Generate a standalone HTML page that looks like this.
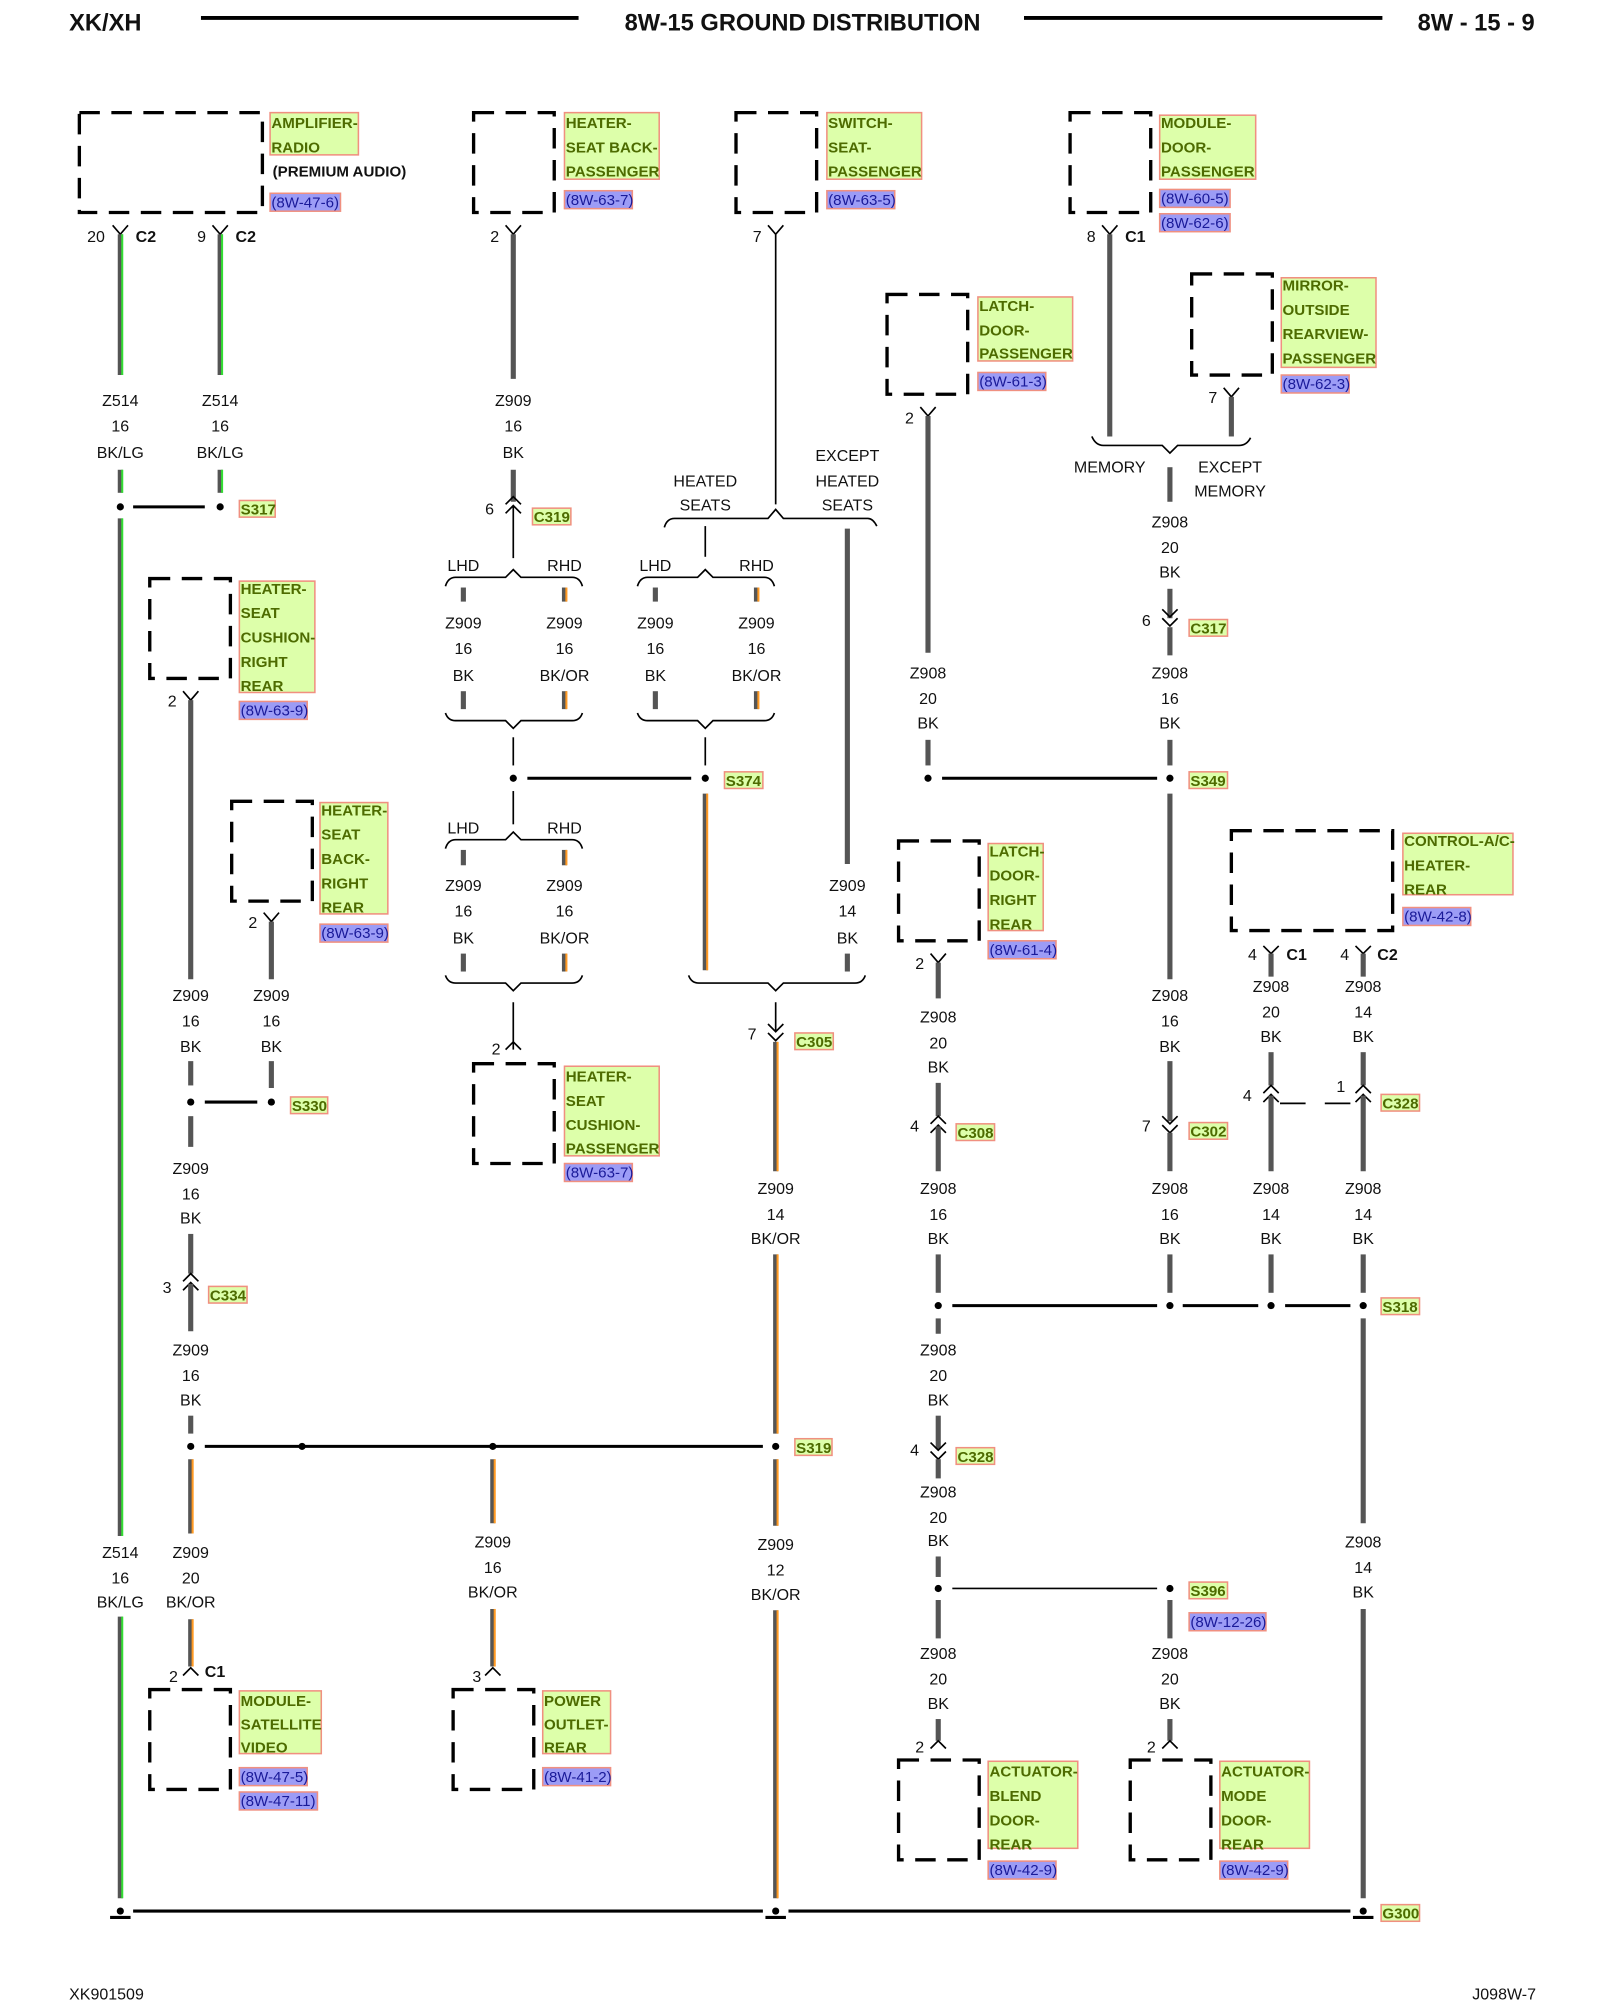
<!DOCTYPE html>
<html><head><meta charset="utf-8"><style>
html,body{margin:0;padding:0;background:#fff}
svg{display:block}
text{font-family:"Liberation Sans",sans-serif;font-size:12.5px;fill:#111}
.c{text-anchor:middle}
.w{stroke:#555;stroke-width:4;fill:none}
.g{stroke:#33dd33;stroke-width:1.6;fill:none}
.o{stroke:#ff9922;stroke-width:1.6;fill:none}
.t{stroke:#000;stroke-width:1.3;fill:none}
.b{stroke:#000;stroke-width:2.4;fill:none}
.db{stroke:#000;stroke-width:2.6;fill:none;stroke-dasharray:16 9}
.lb{fill:#ddffaa;stroke:#f09080;stroke-width:1.2}
.lt{font-weight:bold;font-size:11.8px;fill:#4d6b00}
.rb{fill:#9c9cf6;stroke:#f09080;stroke-width:1.2}
.rt{font-size:11.8px;fill:#1a1a99}
.bd{font-weight:bold}
</style></head><body>
<svg width="1600" height="2000" viewBox="0 0 1250 1562.5" xmlns="http://www.w3.org/2000/svg">
<!-- header -->
<text x="54" y="24" class="bd" style="font-size:18.5px">XK/XH</text>
<line x1="157" y1="14" x2="452" y2="14" stroke="#000" stroke-width="3"/>
<text x="627" y="24" class="bd c" style="font-size:18.5px">8W-15 GROUND DISTRIBUTION</text>
<line x1="800" y1="14" x2="1080" y2="14" stroke="#000" stroke-width="3"/>
<text x="1199" y="24" class="bd" style="font-size:18.5px;text-anchor:end">8W - 15 - 9</text>
<text x="54" y="1562">XK901509</text>
<text x="1200" y="1562" style="text-anchor:end">J098W-7</text>

<!-- ===== Amplifier ===== -->
<rect x="62" y="88" width="143" height="78" class="db"/>
<rect x="211" y="88" width="69" height="33" class="lb"/>
<text x="212" y="100" class="lt">AMPLIFIER-</text><text x="212" y="119" class="lt">RADIO</text>
<text x="213" y="138" class="bd" style="font-size:11.8px">(PREMIUM AUDIO)</text>
<rect x="211" y="151" width="55" height="14" class="rb"/><text x="212" y="162" class="rt">(8W-47-6)</text>
<path class="t" d="M88 176 L94 183 L100 176 M166 176 L172 183 L178 176"/>
<text x="82" y="189" style="text-anchor:end">20</text><text x="106" y="189" class="bd">C2</text>
<text x="161" y="189" style="text-anchor:end">9</text><text x="184" y="189" class="bd">C2</text>
<line class="w" x1="94" y1="183" x2="94" y2="293"/><line class="g" x1="95.5" y1="183" x2="95.5" y2="293"/>
<line class="w" x1="172" y1="183" x2="172" y2="293"/><line class="g" x1="173.5" y1="183" x2="173.5" y2="293"/>
<text x="94" y="317" class="c">Z514</text><text x="94" y="337" class="c">16</text><text x="94" y="358" class="c">BK/LG</text>
<text x="172" y="317" class="c">Z514</text><text x="172" y="337" class="c">16</text><text x="172" y="358" class="c">BK/LG</text>
<line class="w" x1="94" y1="367" x2="94" y2="385"/><line class="g" x1="95.5" y1="367" x2="95.5" y2="385"/>
<line class="w" x1="172" y1="367" x2="172" y2="385"/><line class="g" x1="173.5" y1="367" x2="173.5" y2="385"/>
<circle cx="94" cy="396" r="2.8"/><circle cx="172" cy="396" r="2.8"/>
<line class="b" x1="104" y1="396" x2="160" y2="396"/>
<rect x="187" y="391" width="28" height="13" class="lb"/><text x="188" y="402" class="lt">S317</text>
<line class="w" x1="94" y1="405" x2="94" y2="1200"/><line class="g" x1="95.5" y1="405" x2="95.5" y2="1200"/>
<text x="94" y="1217" class="c">Z514</text><text x="94" y="1237" class="c">16</text><text x="94" y="1256" class="c">BK/LG</text>
<line class="w" x1="94" y1="1263" x2="94" y2="1483"/><line class="g" x1="95.5" y1="1263" x2="95.5" y2="1483"/>

<!-- ground bus -->
<line class="b" x1="104" y1="1493" x2="596" y2="1493"/>
<line class="b" x1="616" y1="1493" x2="1055" y2="1493"/>
<circle cx="94" cy="1493" r="2.8"/><line class="b" x1="86" y1="1498" x2="102" y2="1498"/>
<circle cx="606" cy="1493" r="2.8"/><line class="b" x1="598" y1="1498" x2="614" y2="1498"/>
<circle cx="1065" cy="1493" r="2.8"/><line class="b" x1="1057" y1="1498" x2="1073" y2="1498"/>
<rect x="1079" y="1488" width="30" height="13" class="lb"/><text x="1080" y="1499" class="lt">G300</text>

<!-- ===== Heater seat back passenger ===== -->
<rect x="370" y="88" width="63" height="78" class="db"/>
<rect x="441" y="88" width="74" height="52" class="lb"/>
<text x="442" y="100" class="lt">HEATER-</text><text x="442" y="119" class="lt">SEAT BACK-</text><text x="442" y="138" class="lt">PASSENGER</text>
<rect x="441" y="149" width="53" height="14" class="rb"/><text x="442" y="160" class="rt">(8W-63-7)</text>
<path class="t" d="M395 176 L401 183 L407 176"/><text x="390" y="189" style="text-anchor:end">2</text>
<line class="w" x1="401" y1="183" x2="401" y2="296"/>
<text x="401" y="317" class="c">Z909</text><text x="401" y="337" class="c">16</text><text x="401" y="358" class="c">BK</text>
<line class="w" x1="401" y1="367" x2="401" y2="392"/>
<path class="t" d="M395 394 L401 388 L407 394 M395 401 L401 395 L407 401 M401 395 L401 436"/>
<text x="386" y="402" style="text-anchor:end">6</text>
<rect x="416" y="397" width="30" height="13" class="lb"/><text x="417" y="408" class="lt">C319</text>
<text x="362" y="446" class="c">LHD</text><text x="441" y="446" class="c">RHD</text>
<path class="t" d="M348 458 Q350 451 356 451 L395 451 L401 445 L407 451 L447 451 Q453 451 455 458"/>
<line class="w" x1="362" y1="459" x2="362" y2="470"/>
<line class="w" x1="441" y1="459" x2="441" y2="470"/><line class="o" x1="442.5" y1="459" x2="442.5" y2="470"/>
<text x="362" y="491" class="c">Z909</text><text x="362" y="511" class="c">16</text><text x="362" y="532" class="c">BK</text>
<text x="441" y="491" class="c">Z909</text><text x="441" y="511" class="c">16</text><text x="441" y="532" class="c">BK/OR</text>
<line class="w" x1="362" y1="540" x2="362" y2="554"/>
<line class="w" x1="441" y1="540" x2="441" y2="554"/><line class="o" x1="442.5" y1="540" x2="442.5" y2="554"/>
<path class="t" d="M348 557 Q350 563 356 563 L395 563 L401 569 L407 563 L447 563 Q453 563 455 557"/>
<line class="t" x1="401" y1="576" x2="401" y2="598"/>
<circle cx="401" cy="608" r="2.8"/>
<line class="b" x1="412" y1="608" x2="540" y2="608"/>
<circle cx="551" cy="608" r="2.8"/>
<rect x="566" y="603" width="30" height="13" class="lb"/><text x="567" y="614" class="lt">S374</text>
<line class="t" x1="401" y1="618" x2="401" y2="644"/>
<text x="362" y="651" class="c">LHD</text><text x="441" y="651" class="c">RHD</text>
<path class="t" d="M348 663 Q350 656 356 656 L395 656 L401 650 L407 656 L447 656 Q453 656 455 663"/>
<line class="w" x1="362" y1="664" x2="362" y2="676"/>
<line class="w" x1="441" y1="664" x2="441" y2="676"/><line class="o" x1="442.5" y1="664" x2="442.5" y2="676"/>
<text x="362" y="696" class="c">Z909</text><text x="362" y="716" class="c">16</text><text x="362" y="737" class="c">BK</text>
<text x="441" y="696" class="c">Z909</text><text x="441" y="716" class="c">16</text><text x="441" y="737" class="c">BK/OR</text>
<line class="w" x1="362" y1="745" x2="362" y2="759"/>
<line class="w" x1="441" y1="745" x2="441" y2="759"/><line class="o" x1="442.5" y1="745" x2="442.5" y2="759"/>
<path class="t" d="M348 762 Q350 768 356 768 L395 768 L401 774 L407 768 L447 768 Q453 768 455 762"/>
<line class="t" x1="401" y1="783" x2="401" y2="820"/>
<path class="t" d="M395 820 L401 814 L407 820"/><text x="391" y="824" style="text-anchor:end">2</text>
<rect x="370" y="831" width="63" height="78" class="db"/>
<rect x="441" y="833" width="74" height="70" class="lb"/>
<text x="442" y="845" class="lt">HEATER-</text><text x="442" y="864" class="lt">SEAT</text><text x="442" y="883" class="lt">CUSHION-</text><text x="442" y="901" class="lt">PASSENGER</text>
<rect x="441" y="909" width="53" height="14" class="rb"/><text x="442" y="920" class="rt">(8W-63-7)</text>

<!-- ===== Switch seat passenger ===== -->
<rect x="575" y="88" width="63" height="78" class="db"/>
<rect x="646" y="88" width="74" height="52" class="lb"/>
<text x="647" y="100" class="lt">SWITCH-</text><text x="647" y="119" class="lt">SEAT-</text><text x="647" y="138" class="lt">PASSENGER</text>
<rect x="646" y="149" width="53" height="14" class="rb"/><text x="647" y="160" class="rt">(8W-63-5)</text>
<path class="t" d="M600 176 L606 183 L612 176"/><text x="595" y="189" style="text-anchor:end">7</text>
<line class="t" x1="606" y1="183" x2="606" y2="394"/>
<text x="551" y="380" class="c">HEATED</text><text x="551" y="399" class="c">SEATS</text>
<text x="662" y="360" class="c">EXCEPT</text><text x="662" y="380" class="c">HEATED</text><text x="662" y="399" class="c">SEATS</text>
<path class="t" d="M519 412 Q521 405 527 405 L600 405 L606 398 L612 405 L678 405 Q682 405 685 411"/>
<line class="t" x1="551" y1="411" x2="551" y2="435"/>
<text x="512" y="446" class="c">LHD</text><text x="591" y="446" class="c">RHD</text>
<path class="t" d="M498 458 Q500 451 506 451 L545 451 L551 445 L557 451 L597 451 Q603 451 605 458"/>
<line class="w" x1="512" y1="459" x2="512" y2="470"/>
<line class="w" x1="591" y1="459" x2="591" y2="470"/><line class="o" x1="592.5" y1="459" x2="592.5" y2="470"/>
<text x="512" y="491" class="c">Z909</text><text x="512" y="511" class="c">16</text><text x="512" y="532" class="c">BK</text>
<text x="591" y="491" class="c">Z909</text><text x="591" y="511" class="c">16</text><text x="591" y="532" class="c">BK/OR</text>
<line class="w" x1="512" y1="540" x2="512" y2="554"/>
<line class="w" x1="591" y1="540" x2="591" y2="554"/><line class="o" x1="592.5" y1="540" x2="592.5" y2="554"/>
<path class="t" d="M498 557 Q500 563 506 563 L545 563 L551 569 L557 563 L597 563 Q603 563 605 557"/>
<line class="t" x1="551" y1="576" x2="551" y2="598"/>
<line class="w" x1="551" y1="620" x2="551" y2="758"/><line class="o" x1="552.5" y1="620" x2="552.5" y2="758"/>
<line class="w" x1="662" y1="413" x2="662" y2="675"/>
<text x="662" y="696" class="c">Z909</text><text x="662" y="716" class="c">14</text><text x="662" y="737" class="c">BK</text>
<line class="w" x1="662" y1="745" x2="662" y2="759"/>
<path class="t" d="M538 762 Q540 768 546 768 L600 768 L606 774 L612 768 L668 768 Q674 768 676 762"/>
<line class="t" x1="606" y1="783" x2="606" y2="806"/>
<path class="t" d="M600 800 L606 806 L612 800 M600 807 L606 813 L612 807"/>
<text x="591" y="812" style="text-anchor:end">7</text>
<rect x="621" y="807" width="30" height="13" class="lb"/><text x="622" y="818" class="lt">C305</text>
<line class="w" x1="606" y1="814" x2="606" y2="915"/><line class="o" x1="607.5" y1="814" x2="607.5" y2="915"/>
<text x="606" y="933" class="c">Z909</text><text x="606" y="953" class="c">14</text><text x="606" y="972" class="c">BK/OR</text>
<line class="w" x1="606" y1="980" x2="606" y2="1120"/><line class="o" x1="607.5" y1="980" x2="607.5" y2="1120"/>
<circle cx="606" cy="1130" r="2.8"/>
<rect x="621" y="1124" width="29" height="13" class="lb"/><text x="622" y="1135" class="lt">S319</text>
<line class="w" x1="606" y1="1140" x2="606" y2="1192"/><line class="o" x1="607.5" y1="1140" x2="607.5" y2="1192"/>
<text x="606" y="1211" class="c">Z909</text><text x="606" y="1231" class="c">12</text><text x="606" y="1250" class="c">BK/OR</text>
<line class="w" x1="606" y1="1258" x2="606" y2="1483"/><line class="o" x1="607.5" y1="1258" x2="607.5" y2="1483"/>

<!-- ===== Heater seat cushion right rear ===== -->
<rect x="117" y="452" width="63" height="78" class="db"/>
<rect x="187" y="454" width="59" height="87" class="lb"/>
<text x="188" y="464" class="lt">HEATER-</text><text x="188" y="483" class="lt">SEAT</text><text x="188" y="502" class="lt">CUSHION-</text><text x="188" y="521" class="lt">RIGHT</text><text x="188" y="540" class="lt">REAR</text>
<rect x="187" y="548" width="53" height="14" class="rb"/><text x="188" y="559" class="rt">(8W-63-9)</text>
<path class="t" d="M143 540 L149 547 L155 540"/><text x="138" y="552" style="text-anchor:end">2</text>
<line class="w" x1="149" y1="547" x2="149" y2="765"/>
<text x="149" y="782" class="c">Z909</text><text x="149" y="802" class="c">16</text><text x="149" y="822" class="c">BK</text>
<line class="w" x1="149" y1="829" x2="149" y2="848"/>
<circle cx="149" cy="861" r="2.8"/>
<line class="b" x1="160" y1="861" x2="201" y2="861"/>
<circle cx="212" cy="861" r="2.8"/>
<rect x="227" y="857" width="29" height="13" class="lb"/><text x="228" y="868" class="lt">S330</text>
<line class="w" x1="149" y1="872" x2="149" y2="896"/>
<text x="149" y="917" class="c">Z909</text><text x="149" y="937" class="c">16</text><text x="149" y="956" class="c">BK</text>
<line class="w" x1="149" y1="964" x2="149" y2="995"/>
<path class="t" d="M143 1001 L149 995 L155 1001 M143 1008 L149 1002 L155 1008"/>
<line class="w" x1="149" y1="1003" x2="149" y2="1040"/>
<text x="134" y="1010" style="text-anchor:end">3</text>
<rect x="163" y="1005" width="30" height="13" class="lb"/><text x="164" y="1016" class="lt">C334</text>
<text x="149" y="1059" class="c">Z909</text><text x="149" y="1079" class="c">16</text><text x="149" y="1098" class="c">BK</text>
<line class="w" x1="149" y1="1106" x2="149" y2="1120"/>
<circle cx="149" cy="1130" r="2.8"/>
<line class="b" x1="160" y1="1130" x2="596" y2="1130"/>
<circle cx="236" cy="1130" r="2.8"/><circle cx="385" cy="1130" r="2.8"/>
<line class="w" x1="149" y1="1140" x2="149" y2="1198"/><line class="o" x1="150.5" y1="1140" x2="150.5" y2="1198"/>
<text x="149" y="1217" class="c">Z909</text><text x="149" y="1237" class="c">20</text><text x="149" y="1256" class="c">BK/OR</text>
<line class="w" x1="149" y1="1265" x2="149" y2="1302"/><line class="o" x1="150.5" y1="1265" x2="150.5" y2="1302"/>
<path class="t" d="M143 1309 L149 1303 L155 1309"/><text x="139" y="1314" style="text-anchor:end">2</text><text x="160" y="1310" class="bd">C1</text>
<rect x="117" y="1320" width="63" height="78" class="db"/>
<rect x="187" y="1321" width="64" height="49" class="lb"/>
<text x="188" y="1333" class="lt">MODULE-</text><text x="188" y="1351" class="lt">SATELLITE</text><text x="188" y="1369" class="lt">VIDEO</text>
<rect x="187" y="1381" width="53" height="14" class="rb"/><text x="188" y="1392" class="rt">(8W-47-5)</text>
<rect x="187" y="1400" width="61" height="14" class="rb"/><text x="188" y="1411" class="rt">(8W-47-11)</text>

<!-- ===== Heater seat back right rear ===== -->
<rect x="181" y="626" width="63" height="78" class="db"/>
<rect x="250" y="627" width="53" height="87" class="lb"/>
<text x="251" y="637" class="lt">HEATER-</text><text x="251" y="656" class="lt">SEAT</text><text x="251" y="675" class="lt">BACK-</text><text x="251" y="694" class="lt">RIGHT</text><text x="251" y="713" class="lt">REAR</text>
<rect x="250" y="722" width="53" height="14" class="rb"/><text x="251" y="733" class="rt">(8W-63-9)</text>
<path class="t" d="M206 713 L212 720 L218 713"/><text x="201" y="725" style="text-anchor:end">2</text>
<line class="w" x1="212" y1="720" x2="212" y2="765"/>
<text x="212" y="782" class="c">Z909</text><text x="212" y="802" class="c">16</text><text x="212" y="822" class="c">BK</text>
<line class="w" x1="212" y1="829" x2="212" y2="850"/>

<!-- ===== Power outlet ===== -->
<line class="w" x1="385" y1="1140" x2="385" y2="1190"/><line class="o" x1="386.5" y1="1140" x2="386.5" y2="1190"/>
<text x="385" y="1209" class="c">Z909</text><text x="385" y="1229" class="c">16</text><text x="385" y="1248" class="c">BK/OR</text>
<line class="w" x1="385" y1="1257" x2="385" y2="1302"/><line class="o" x1="386.5" y1="1257" x2="386.5" y2="1302"/>
<path class="t" d="M379 1309 L385 1303 L391 1309"/><text x="376" y="1314" style="text-anchor:end">3</text>
<rect x="354" y="1320" width="63" height="78" class="db"/>
<rect x="424" y="1321" width="53" height="49" class="lb"/>
<text x="425" y="1333" class="lt">POWER</text><text x="425" y="1351" class="lt">OUTLET-</text><text x="425" y="1369" class="lt">REAR</text>
<rect x="424" y="1381" width="53" height="14" class="rb"/><text x="425" y="1392" class="rt">(8W-41-2)</text>

<!-- ===== Latch door passenger ===== -->
<rect x="693" y="230" width="63" height="78" class="db"/>
<rect x="764" y="232" width="74" height="50" class="lb"/>
<text x="765" y="243" class="lt">LATCH-</text><text x="765" y="262" class="lt">DOOR-</text><text x="765" y="280" class="lt">PASSENGER</text>
<rect x="764" y="291" width="53" height="14" class="rb"/><text x="765" y="302" class="rt">(8W-61-3)</text>
<path class="t" d="M719 318 L725 325 L731 318"/><text x="714" y="331" style="text-anchor:end">2</text>
<line class="w" x1="725" y1="325" x2="725" y2="510"/>
<text x="725" y="530" class="c">Z908</text><text x="725" y="550" class="c">20</text><text x="725" y="569" class="c">BK</text>
<line class="w" x1="725" y1="578" x2="725" y2="598"/>
<circle cx="725" cy="608" r="2.8"/>
<line class="b" x1="736" y1="608" x2="904" y2="608"/>
<circle cx="914" cy="608" r="2.8"/>
<rect x="929" y="603" width="30" height="13" class="lb"/><text x="930" y="614" class="lt">S349</text>

<!-- ===== Module door passenger ===== -->
<rect x="836" y="88" width="63" height="78" class="db"/>
<rect x="906" y="90" width="75" height="50" class="lb"/>
<text x="907" y="100" class="lt">MODULE-</text><text x="907" y="119" class="lt">DOOR-</text><text x="907" y="138" class="lt">PASSENGER</text>
<rect x="906" y="148" width="55" height="14" class="rb"/><text x="907" y="159" class="rt">(8W-60-5)</text>
<rect x="906" y="167" width="55" height="14" class="rb"/><text x="907" y="178" class="rt">(8W-62-6)</text>
<path class="t" d="M861 176 L867 183 L873 176"/><text x="856" y="189" style="text-anchor:end">8</text><text x="879" y="189" class="bd">C1</text>
<line class="w" x1="867" y1="183" x2="867" y2="341"/>
<rect x="931" y="214" width="63" height="79" class="db"/>
<rect x="1001" y="217" width="74" height="70" class="lb"/>
<text x="1002" y="227" class="lt">MIRROR-</text><text x="1002" y="246" class="lt">OUTSIDE</text><text x="1002" y="265" class="lt">REARVIEW-</text><text x="1002" y="284" class="lt">PASSENGER</text>
<rect x="1001" y="293" width="53" height="14" class="rb"/><text x="1002" y="304" class="rt">(8W-62-3)</text>
<path class="t" d="M956 303 L962 310 L968 303"/><text x="951" y="315" style="text-anchor:end">7</text>
<line class="w" x1="962" y1="310" x2="962" y2="341"/>
<path class="t" d="M853 341 Q856 348 862 348 L908 348 L914 354 L920 348 L968 348 Q974 348 977 342"/>
<text x="867" y="369" class="c">MEMORY</text>
<text x="961" y="369" class="c">EXCEPT</text><text x="961" y="388" class="c">MEMORY</text>
<line class="w" x1="914" y1="365" x2="914" y2="392"/>
<text x="914" y="412" class="c">Z908</text><text x="914" y="432" class="c">20</text><text x="914" y="451" class="c">BK</text>
<line class="w" x1="914" y1="460" x2="914" y2="483"/>
<path class="t" d="M908 476 L914 482 L920 476 M908 483 L914 489 L920 483"/>
<line class="w" x1="914" y1="490" x2="914" y2="512"/>
<text x="899" y="489" style="text-anchor:end">6</text>
<rect x="929" y="484" width="30" height="13" class="lb"/><text x="930" y="495" class="lt">C317</text>
<text x="914" y="530" class="c">Z908</text><text x="914" y="550" class="c">16</text><text x="914" y="569" class="c">BK</text>
<line class="w" x1="914" y1="578" x2="914" y2="598"/>
<line class="w" x1="914" y1="620" x2="914" y2="765"/>
<text x="914" y="782" class="c">Z908</text><text x="914" y="802" class="c">16</text><text x="914" y="822" class="c">BK</text>
<line class="w" x1="914" y1="829" x2="914" y2="876"/>
<path class="t" d="M908 872 L914 878 L920 872 M908 879 L914 885 L920 879"/>
<line class="w" x1="914" y1="885" x2="914" y2="915"/>
<text x="899" y="884" style="text-anchor:end">7</text>
<rect x="929" y="877" width="30" height="13" class="lb"/><text x="930" y="888" class="lt">C302</text>
<text x="914" y="933" class="c">Z908</text><text x="914" y="953" class="c">16</text><text x="914" y="972" class="c">BK</text>
<line class="w" x1="914" y1="980" x2="914" y2="1010"/>

<!-- ===== Latch door right rear ===== -->
<rect x="702" y="657" width="63" height="78" class="db"/>
<rect x="772" y="659" width="43" height="68" class="lb"/>
<text x="773" y="669" class="lt">LATCH-</text><text x="773" y="688" class="lt">DOOR-</text><text x="773" y="707" class="lt">RIGHT</text><text x="773" y="726" class="lt">REAR</text>
<rect x="772" y="735" width="53" height="14" class="rb"/><text x="773" y="746" class="rt">(8W-61-4)</text>
<path class="t" d="M727 745 L733 752 L739 745"/><text x="722" y="757" style="text-anchor:end">2</text>
<line class="w" x1="733" y1="752" x2="733" y2="780"/>
<text x="733" y="799" class="c">Z908</text><text x="733" y="819" class="c">20</text><text x="733" y="838" class="c">BK</text>
<line class="w" x1="733" y1="846" x2="733" y2="872"/>
<path class="t" d="M727 878 L733 872 L739 878 M727 885 L733 879 L739 885"/>
<line class="w" x1="733" y1="880" x2="733" y2="915"/>
<text x="718" y="884" style="text-anchor:end">4</text>
<rect x="747" y="878" width="30" height="13" class="lb"/><text x="748" y="889" class="lt">C308</text>
<text x="733" y="933" class="c">Z908</text><text x="733" y="953" class="c">16</text><text x="733" y="972" class="c">BK</text>
<line class="w" x1="733" y1="980" x2="733" y2="1010"/>
<circle cx="733" cy="1020" r="2.8"/>
<line class="b" x1="744" y1="1020" x2="904" y2="1020"/>
<circle cx="914" cy="1020" r="2.8"/>
<line class="b" x1="924" y1="1020" x2="983" y2="1020"/>
<circle cx="993" cy="1020" r="2.8"/>
<line class="b" x1="1004" y1="1020" x2="1055" y2="1020"/>
<circle cx="1065" cy="1020" r="2.8"/>
<rect x="1079" y="1014" width="30" height="13" class="lb"/><text x="1080" y="1025" class="lt">S318</text>
<line class="w" x1="733" y1="1030" x2="733" y2="1042"/>
<text x="733" y="1059" class="c">Z908</text><text x="733" y="1079" class="c">20</text><text x="733" y="1098" class="c">BK</text>
<line class="w" x1="733" y1="1106" x2="733" y2="1132"/>
<path class="t" d="M727 1127 L733 1133 L739 1127 M727 1134 L733 1140 L739 1134"/>
<line class="w" x1="733" y1="1140" x2="733" y2="1155"/>
<text x="718" y="1137" style="text-anchor:end">4</text>
<rect x="747" y="1131" width="30" height="13" class="lb"/><text x="748" y="1142" class="lt">C328</text>
<text x="733" y="1170" class="c">Z908</text><text x="733" y="1190" class="c">20</text><text x="733" y="1208" class="c">BK</text>
<line class="w" x1="733" y1="1216" x2="733" y2="1232"/>
<circle cx="733" cy="1241" r="2.8"/>
<line class="t" x1="744" y1="1241" x2="904" y2="1241"/>
<circle cx="914" cy="1241" r="2.8"/>
<rect x="929" y="1236" width="30" height="13" class="lb"/><text x="930" y="1247" class="lt">S396</text>
<rect x="929" y="1260" width="60" height="14" class="rb"/><text x="930" y="1271" class="rt">(8W-12-26)</text>
<line class="w" x1="733" y1="1250" x2="733" y2="1280"/>
<line class="w" x1="914" y1="1250" x2="914" y2="1280"/>
<text x="733" y="1296" class="c">Z908</text><text x="733" y="1316" class="c">20</text><text x="733" y="1335" class="c">BK</text>
<text x="914" y="1296" class="c">Z908</text><text x="914" y="1316" class="c">20</text><text x="914" y="1335" class="c">BK</text>
<line class="w" x1="733" y1="1343" x2="733" y2="1360"/>
<line class="w" x1="914" y1="1343" x2="914" y2="1360"/>
<path class="t" d="M727 1366 L733 1360 L739 1366"/><text x="722" y="1369" style="text-anchor:end">2</text>
<path class="t" d="M908 1366 L914 1360 L920 1366"/><text x="903" y="1369" style="text-anchor:end">2</text>
<rect x="702" y="1375" width="63" height="78" class="db"/>
<rect x="772" y="1376" width="70" height="68" class="lb"/>
<text x="773" y="1388" class="lt">ACTUATOR-</text><text x="773" y="1407" class="lt">BLEND</text><text x="773" y="1426" class="lt">DOOR-</text><text x="773" y="1445" class="lt">REAR</text>
<rect x="772" y="1454" width="53" height="14" class="rb"/><text x="773" y="1465" class="rt">(8W-42-9)</text>
<rect x="883" y="1375" width="63" height="78" class="db"/>
<rect x="953" y="1376" width="70" height="68" class="lb"/>
<text x="954" y="1388" class="lt">ACTUATOR-</text><text x="954" y="1407" class="lt">MODE</text><text x="954" y="1426" class="lt">DOOR-</text><text x="954" y="1445" class="lt">REAR</text>
<rect x="953" y="1454" width="53" height="14" class="rb"/><text x="954" y="1465" class="rt">(8W-42-9)</text>

<!-- ===== Control A/C heater rear ===== -->
<rect x="962" y="649" width="126" height="78" class="db"/>
<rect x="1096" y="651" width="86" height="48" class="lb"/>
<text x="1097" y="661" class="lt">CONTROL-A/C-</text><text x="1097" y="680" class="lt">HEATER-</text><text x="1097" y="699" class="lt">REAR</text>
<rect x="1096" y="709" width="53" height="14" class="rb"/><text x="1097" y="720" class="rt">(8W-42-8)</text>
<path class="t" d="M987 739 L993 745 L999 739 M1059 739 L1065 745 L1071 739"/>
<text x="982" y="750" style="text-anchor:end">4</text><text x="1005" y="750" class="bd">C1</text>
<text x="1054" y="750" style="text-anchor:end">4</text><text x="1076" y="750" class="bd">C2</text>
<line class="w" x1="993" y1="745" x2="993" y2="763"/>
<line class="w" x1="1065" y1="745" x2="1065" y2="763"/>
<text x="993" y="775" class="c">Z908</text><text x="993" y="795" class="c">20</text><text x="993" y="814" class="c">BK</text>
<text x="1065" y="775" class="c">Z908</text><text x="1065" y="795" class="c">14</text><text x="1065" y="814" class="c">BK</text>
<line class="w" x1="993" y1="822" x2="993" y2="848"/>
<line class="w" x1="1065" y1="822" x2="1065" y2="848"/>
<path class="t" d="M987 854 L993 848 L999 854 M987 861 L993 855 L999 861 M1059 854 L1065 848 L1071 854 M1059 861 L1065 855 L1071 861"/>
<line class="t" x1="1000" y1="862" x2="1020" y2="862"/><line class="t" x1="1035" y1="862" x2="1055" y2="862"/>
<text x="978" y="860" style="text-anchor:end">4</text><text x="1051" y="853" style="text-anchor:end">1</text>
<rect x="1079" y="855" width="30" height="13" class="lb"/><text x="1080" y="866" class="lt">C328</text>
<line class="w" x1="993" y1="856" x2="993" y2="915"/>
<line class="w" x1="1065" y1="856" x2="1065" y2="915"/>
<text x="993" y="933" class="c">Z908</text><text x="993" y="953" class="c">14</text><text x="993" y="972" class="c">BK</text>
<text x="1065" y="933" class="c">Z908</text><text x="1065" y="953" class="c">14</text><text x="1065" y="972" class="c">BK</text>
<line class="w" x1="993" y1="980" x2="993" y2="1010"/>
<line class="w" x1="1065" y1="980" x2="1065" y2="1010"/>
<line class="w" x1="1065" y1="1030" x2="1065" y2="1190"/>
<text x="1065" y="1209" class="c">Z908</text><text x="1065" y="1229" class="c">14</text><text x="1065" y="1248" class="c">BK</text>
<line class="w" x1="1065" y1="1257" x2="1065" y2="1483"/>
</svg>
</body></html>
